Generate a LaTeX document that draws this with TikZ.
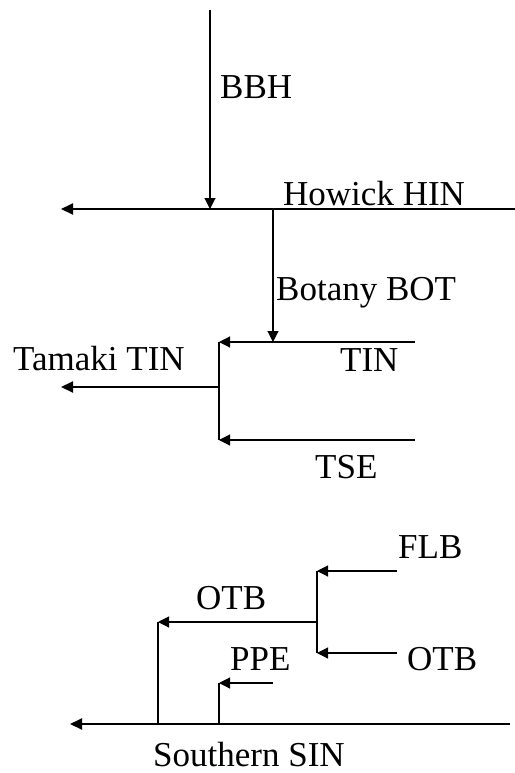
\documentclass[tikz,border=0pt]{standalone}
\usepackage{fontspec}
\setmainfont{Liberation Serif}
\usetikzlibrary{arrows.meta}
\begin{document}
\begin{tikzpicture}[x=1bp,y=-1bp,
  lbl/.style={anchor=base west,inner sep=0pt,font=\fontsize{35bp}{40bp}\selectfont},
  feed/.style={line width=1.1bp,-{Triangle[length=11bp,width=11bp]}},
  plain/.style={line width=1.1bp},
  trunk/.style={line width=2bp,-{Triangle[length=12bp,width=11bp]}}]
\useasboundingbox (0,0) rectangle (515,773);

% --- Howick branch ---
\coordinate (bbhTop) at (210,10);
\coordinate (bbhJoin) at (210,209);
\coordinate (hinEnd) at (515,209);
\coordinate (hinOut) at (61,209);
\coordinate (botStart) at (273,209);
\coordinate (botJoin) at (273,342);

\node[lbl] (bbh) at (220,98) {BBH};
\node[lbl] (hin) at (283,205) {Howick HIN};
\node[lbl] (bot) at (276,300) {Botany BOT};

\draw[trunk] (hinEnd) -- (hinOut);
\draw[feed] (bbhTop) -- (bbhJoin);
\draw[feed] (botStart) -- (botJoin);

% --- Tamaki branch ---
\coordinate (tinEnd) at (415,342);
\coordinate (tinJoin) at (219,342);
\coordinate (tseEnd) at (415,440);
\coordinate (tseJoin) at (219,440);
\coordinate (tamJoin) at (219,387);
\coordinate (tamOut) at (61,387);

\node[lbl] (tin) at (340,371) {TIN};
\node[lbl] (tse) at (315,478) {TSE};
\node[lbl] (tam) at (13,370) {Tamaki TIN};

\draw[feed] (tinEnd) -- (tinJoin);
\draw[feed] (tseEnd) -- (tseJoin);
\draw[plain] (tinJoin) -- (tseJoin);
\draw[trunk] (tamJoin) -- (tamOut);

% --- Southern branch ---
\coordinate (flbEnd) at (397,571);
\coordinate (flbJoin) at (317,571);
\coordinate (otbEnd) at (397,653);
\coordinate (otbJoin) at (317,653);
\coordinate (otbMid) at (317,622);
\coordinate (otbTurn) at (158,622);
\coordinate (otbFoot) at (158,724);
\coordinate (ppeEnd) at (273,683);
\coordinate (ppeTurn) at (219,683);
\coordinate (ppeFoot) at (219,724);
\coordinate (sinEnd) at (510,724);
\coordinate (sinOut) at (70,724);

\node[lbl] (flb) at (398,558) {FLB};
\node[lbl] (otbR) at (407,670) {OTB};
\node[lbl] (otbL) at (196,609) {OTB};
\node[lbl] (ppe) at (230,670) {PPE};
\node[lbl] (sin) at (153,766) {Southern SIN};

\draw[feed] (flbEnd) -- (flbJoin);
\draw[feed] (otbEnd) -- (otbJoin);
\draw[plain] (flbJoin) -- (otbJoin);
\draw[feed] (otbMid) -- (otbTurn);
\draw[plain] (otbTurn) -- (otbFoot);
\draw[feed] (ppeEnd) -- (ppeTurn);
\draw[plain] (ppeTurn) -- (ppeFoot);
\draw[trunk] (sinEnd) -- (sinOut);
\end{tikzpicture}
\end{document}
